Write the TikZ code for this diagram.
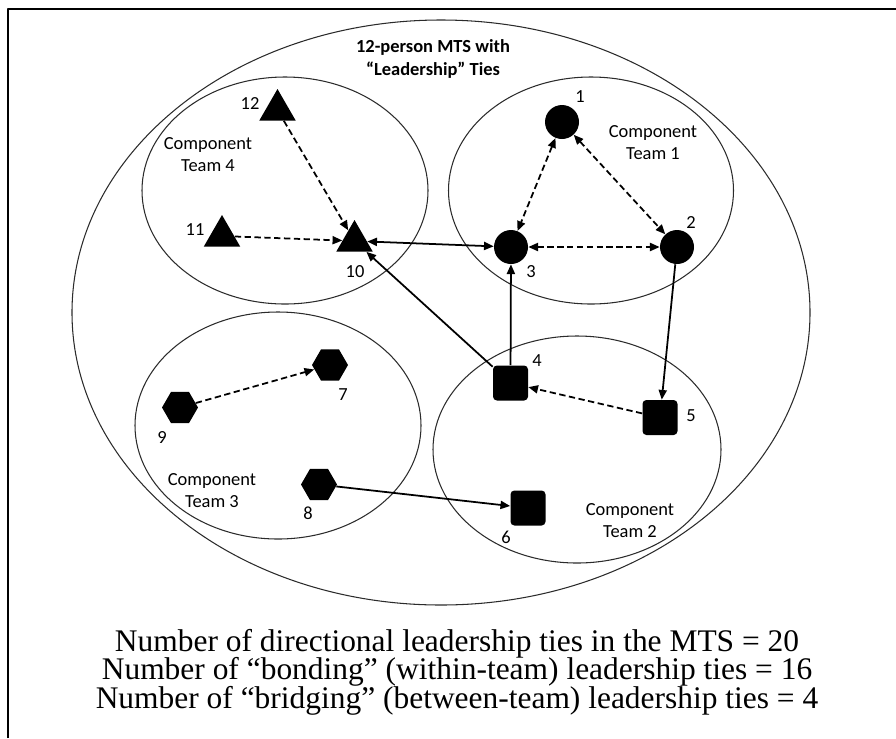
\documentclass[tikz,border=0pt]{standalone}
\usepackage{fontspec}
\setmainfont{Liberation Serif}
\newfontfamily\calfont{Carlito}
\usepackage{tikz}
\usetikzlibrary{arrows.meta, shapes.geometric}
\definecolor{mts-ink}{HTML}{000000}
\definecolor{mts-rim}{HTML}{2B2B2B}

\tikzset{
  member/.style={fill=mts-ink, draw=none, inner sep=0pt},
  circmember/.style={member, circle, minimum size=0.68cm},
  sqmember/.style={member, rectangle, rounded corners=2.2pt, minimum size=0.7cm},
  trimember/.style={member, regular polygon, regular polygon sides=3, minimum size=0.84cm},
  hexmember/.style={member, regular polygon, regular polygon sides=6, minimum size=0.72cm},
  numlabel/.style={font=\calfont\fontsize{10.5}{12.6}\selectfont, inner sep=0pt},
  teamlabel/.style={numlabel, align=center},
  teamrim/.style={line width=0.6pt, mts-rim},
  sumline/.style={anchor=base, font=\fontsize{17.9}{15.6}\selectfont, inner sep=0pt},
  tie/.style={line width=1pt, mts-ink, -{Triangle[length=5.5pt, width=4.6pt]}},
  mutualtie/.style={tie, {Triangle[length=5.5pt, width=4.6pt]}-{Triangle[length=5.5pt, width=4.6pt]}},
  loosetie/.style={dash pattern=on 3.6pt off 2pt},
}

\begin{document}
\begin{tikzpicture}[x=0.02cm, y=-0.02cm, line join=round]
  \useasboundingbox (0,0) rectangle (896,738);
  % ramme
  \draw[line width=0.04cm] (8,738) -- (8,9) -- (896,9);
  % MTS og komponentteams
  \draw[teamrim] (441,312.5) ellipse [x radius=369, y radius=292.5];
  \draw[teamrim] (285,190.5) ellipse [x radius=143, y radius=113.5];
  \draw[teamrim] (591,190.5) ellipse [x radius=142.5, y radius=113.5];
  \draw[teamrim] (278,425.5) ellipse [x radius=143, y radius=113.5];
  \draw[teamrim] (577,449.5) ellipse [x radius=144, y radius=113.5];
  \node[teamlabel, font=\calfont\bfseries\fontsize{10.5}{13}\selectfont] (title) at (433,59)
    {12-person MTS with\\“Leadership” Ties};
  \node[teamlabel] (team4) at (208,154.5) {Component\\Team 4};
  \node[teamlabel] (team1) at (653,142.5) {Component\\Team 1};
  \node[teamlabel] (team3) at (212,491) {Component\\Team 3};
  \node[teamlabel] (team2) at (630,520.5) {Component\\Team 2};
  % medlemmer
  \node[circmember] (n1) at (562,122) {};
  \node[circmember] (n2) at (677,247) {};
  \node[circmember] (n3) at (511,247) {};
  \node[sqmember] (n4) at (510.5,383) {};
  \node[sqmember] (n5) at (660,417.5) {};
  \node[sqmember] (n6) at (528,508) {};
  \node[hexmember] (n7) at (330,365) {};
  \node[hexmember] (n8) at (319,484.5) {};
  \node[hexmember] (n9) at (180,407.5) {};
  \node[trimember] (n10) at (354.5,241) {};
  \node[trimember] (n11) at (222,236) {};
  \node[trimember] (n12) at (277.5,110) {};
  % numre
  \foreach \i/\x/\y in {1/580/97, 2/691/223, 3/531/272, 4/537/361, 5/691/416, 6/506/537,
                        7/343/395, 8/308/513, 9/162/438, 10/355/272, 11/195/230, 12/250/104}{
    \node[numlabel] (l\i) at (\x,\y) {\i};
  }
  % baand inden for teams
  \draw[mutualtie, loosetie] (n1) -- (n3);
  \draw[mutualtie, loosetie] (n1) -- (n2);
  \draw[mutualtie, loosetie] (n3) -- (n2);
  \draw[tie, loosetie] (n12) -- (n10);
  \draw[tie, loosetie] (n11) -- (n10);
  \draw[tie, loosetie] (n5) -- (n4);
  \draw[tie, loosetie] (n9) -- (n7);
  % baand mellem teams
  \draw[mutualtie] (n10) -- (n3);
  \draw[tie] (n4) -- (n10);
  \draw[tie] (n4) -- (n3);
  \draw[tie] (n2) -- (n5);
  \draw[tie] (n8) -- (n6);
  % opsummering
  \node[sumline] (sum1) at (457,651)
    {Number of directional leadership ties in the MTS = 20};
  \node[sumline] (sum2) at (457,679.5)
    {Number of “bonding” (within-team) leadership ties = 16};
  \node[sumline] (sum3) at (457,708)
    {Number of “bridging” (between-team) leadership ties = 4};
\end{tikzpicture}
\end{document}
